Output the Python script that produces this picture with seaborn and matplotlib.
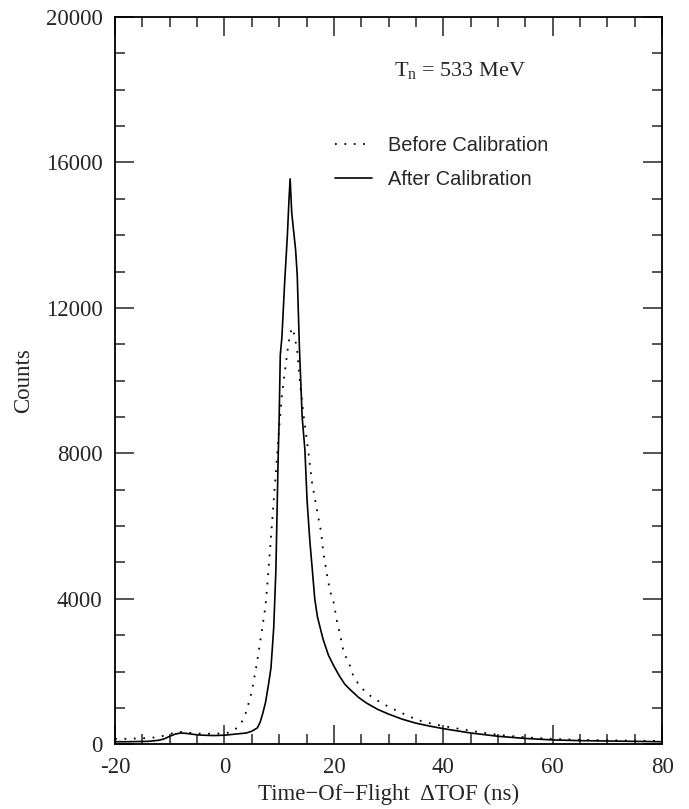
import matplotlib
matplotlib.use("Agg")
import matplotlib.pyplot as plt
import seaborn as sns
import pandas as pd
from matplotlib.ticker import MultipleLocator

# TOF values (ns) and counts
x_after = [-20, -18, -16, -14, -12, -11, -10, -9, -8, -7, -6, -5, -4, -2, 0, 2, 4, 5, 6,
           6.5, 7, 7.5, 8, 8.5, 9, 9.4, 9.8, 10.0, 10.2, 10.5, 11.0, 11.5, 11.8, 12.0,
           12.3, 13.0, 13.3, 13.7, 14.2, 14.7, 15.1, 15.6, 16.0, 16.5, 17.0, 17.5, 18.0,
           19.0, 20.0, 21.0, 22.0, 23.0, 24.5, 26.0, 28.0, 30.0, 32.5, 35.0, 37.5, 40.0,
           45.0, 50.0, 55.0, 60.0, 65.0, 70.0, 75.0, 80.0]
y_after = [70, 70, 75, 80, 110, 150, 220, 280, 310, 300, 280, 260, 250, 240, 250, 280, 310, 360, 450,
           600, 850, 1150, 1600, 2100, 3200, 4800, 7800, 9000, 10700, 11200, 12700, 14000, 15000, 15550,
           14600, 13600, 12900, 10900, 9000, 8100, 6700, 5600, 4900, 4000, 3500, 3200, 2900,
           2450, 2150, 1880, 1650, 1500, 1290, 1130, 960, 830, 690, 580, 500, 430,
           310, 220, 160, 120, 100, 90, 80, 70]

x_before = [-20, -18, -16, -14, -12, -10, -9, -8, -7, -6, -5, -4, -2, 0, 1, 2, 3, 4, 5, 6,
            7, 7.5, 8, 8.5, 9, 9.5, 10.0, 10.5, 11.0, 11.5, 12.0, 12.4, 12.8, 13.3, 13.8,
            14.5, 15.2, 16.0, 16.6, 17.2, 17.7, 18.0, 18.7, 19.3, 19.9, 20.6, 21.0, 21.9,
            22.5, 23.5, 24.5, 26.0, 28.0, 30.0, 32.0, 34.0, 36.3, 40.0, 45.0, 50.0, 55.0,
            60.0, 65.0, 70.0, 75.0, 80.0]
y_before = [150, 150, 160, 170, 200, 280, 330, 340, 330, 310, 300, 290, 290, 300, 330, 420, 560, 900, 1450, 2300,
            3300, 3800, 4700, 5700, 6700, 7700, 8700, 9600, 10200, 10800, 11300, 11450, 11250, 10800, 9950,
            9000, 8200, 7200, 6700, 6200, 5800, 5350, 4700, 4200, 3950, 3350, 3100, 2450,
            2350, 1900, 1650, 1400, 1200, 1030, 890, 750, 620, 500, 370, 260, 190,
            150, 120, 110, 100, 90]

before = pd.DataFrame({'tof': x_before, 'counts': y_before})
after = pd.DataFrame({'tof': x_after, 'counts': y_after})

sns.set_style("ticks")
plt.rcParams['font.family'] = ['Liberation Serif', 'DejaVu Serif']
plt.rcParams['mathtext.fontset'] = 'custom'
plt.rcParams['mathtext.rm'] = 'Liberation Serif'
plt.rcParams['axes.unicode_minus'] = False

fig, ax = plt.subplots(figsize=(6.89, 8.09), dpi=100)
fig.subplots_adjust(left=0.167, right=0.961, bottom=0.080, top=0.979)

sns.lineplot(data=before, x='tof', y='counts', ax=ax, color='black', lw=1.3,
             linestyle=(0, (1, 4.2)), label='Before Calibration')
sns.lineplot(data=after, x='tof', y='counts', ax=ax, color='black', lw=1.2,
             label='After Calibration')

ax.set_xlim(-20, 80)
ax.set_ylim(0, 20000)
ax.xaxis.set_major_locator(MultipleLocator(20))
ax.xaxis.set_minor_locator(MultipleLocator(5))
ax.yaxis.set_major_locator(MultipleLocator(4000))
ax.yaxis.set_minor_locator(MultipleLocator(1000))
ax.tick_params(which='both', direction='in', top=True, right=True, labelsize=16.5, width=1.1)
ax.tick_params(which='major', length=14)
ax.tick_params(axis='x', which='both', pad=9)
ax.tick_params(axis='y', which='both', pad=9)
ax.tick_params(which='minor', length=7)
for s in ax.spines.values():
    s.set_linewidth(1.3)
    s.set_color('black')

ax.set_xlabel('Time\u2212Of\u2212Flight  \u0394TOF (ns)', fontsize=16.5, labelpad=4)
ax.set_ylabel('Counts', fontsize=16.5)
ax.yaxis.set_label_coords(-0.148, 0.5)

ax.text(43.1, 18540, r'$\mathregular{T_n}$ = 533 MeV', fontsize=16, ha='center', va='center')

leg = ax.legend(loc='upper left', bbox_to_anchor=(0.402, 0.837), frameon=False,
                borderpad=0, borderaxespad=0, handlelength=1.85, handletextpad=0.8,
                labelspacing=0.75, prop={'family': 'Liberation Sans', 'size': 14.4})

fig.savefig('out.png', dpi=100)
